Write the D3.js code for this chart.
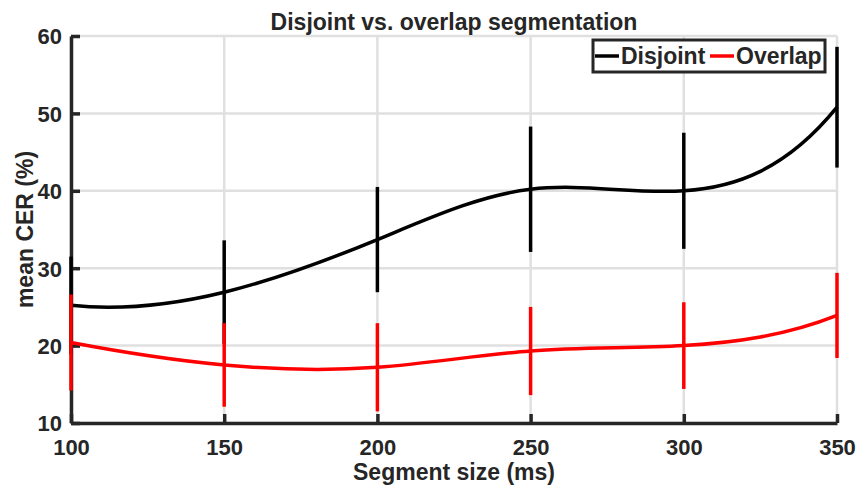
<!DOCTYPE html>
<html lang="en">
<head>
    <meta charset="UTF-8">
    <title>Disjoint vs. overlap segmentation</title>
    <script src="https://d3js.org/d3.v7.js"></script>
    <style>
        body { margin: 0; background: #fff; }
        text { font-family: "Liberation Sans", Arial, sans-serif; font-weight: bold; fill: #262626; }
    </style>
</head>
<body>
<svg width="858" height="486"></svg>
<script>
    // segment sizes (ms)
    const segSizes = [100, 150, 200, 250, 300, 350];
    // mean CER and error (%)
    const disjointMean = [25.2, 26.9, 33.7, 40.2, 40.0, 50.8];
    const disjointErr = [6.3, 6.7, 6.8, 8.1, 7.5, 7.8];
    const overlapMean = [20.4, 17.5, 17.2, 19.3, 20.0, 23.9];
    const overlapErr = [6.2, 5.4, 5.7, 5.7, 5.6, 5.5];
    const xTicks = [100, 150, 200, 250, 300, 350];
    const yTicks = [10, 20, 30, 40, 50, 60];

    const series = [
        {name: "Disjoint", color: "#000", mean: disjointMean, err: disjointErr},
        {name: "Overlap", color: "#ff0000", mean: overlapMean, err: overlapErr}
    ];

    // not-a-knot cubic spline (like matlab's spline), drawn as bezier segments
    function NotAKnot(context) { this._context = context; }
    NotAKnot.prototype = {
        areaStart: function () { this._line = 0; },
        areaEnd: function () { this._line = NaN; },
        lineStart: function () { this._x = []; this._y = []; },
        point: function (px, py) { this._x.push(+px); this._y.push(+py); },
        lineEnd: function () {
            const xs = this._x, ys = this._y, n = xs.length, ctx = this._context;
            if (!n) return;
            ctx.moveTo(xs[0], ys[0]);
            if (n < 4) {
                for (let i = 1; i < n; i++) ctx.lineTo(xs[i], ys[i]);
                return;
            }
            const h = d3.range(n - 1).map(i => xs[i + 1] - xs[i]);
            const A = d3.range(n).map(() => new Array(n).fill(0));
            const b = new Array(n).fill(0);
            // end conditions: third derivative continuous at second and second-last knots
            A[0][0] = -h[1]; A[0][1] = h[0] + h[1]; A[0][2] = -h[0];
            A[n - 1][n - 3] = -h[n - 2]; A[n - 1][n - 2] = h[n - 3] + h[n - 2]; A[n - 1][n - 1] = -h[n - 3];
            for (let i = 1; i < n - 1; i++) {
                A[i][i - 1] = h[i - 1];
                A[i][i] = 2 * (h[i - 1] + h[i]);
                A[i][i + 1] = h[i];
                b[i] = 6 * ((ys[i + 1] - ys[i]) / h[i] - (ys[i] - ys[i - 1]) / h[i - 1]);
            }
            // gaussian elimination with partial pivoting
            for (let c = 0; c < n; c++) {
                let p = c;
                for (let r = c + 1; r < n; r++) if (Math.abs(A[r][c]) > Math.abs(A[p][c])) p = r;
                [A[c], A[p]] = [A[p], A[c]];
                [b[c], b[p]] = [b[p], b[c]];
                for (let r = c + 1; r < n; r++) {
                    const f = A[r][c] / A[c][c];
                    for (let k = c; k < n; k++) A[r][k] -= f * A[c][k];
                    b[r] -= f * b[c];
                }
            }
            const M = new Array(n).fill(0);
            for (let r = n - 1; r >= 0; r--) {
                let s = b[r];
                for (let k = r + 1; k < n; k++) s -= A[r][k] * M[k];
                M[r] = s / A[r][r];
            }
            for (let i = 0; i < n - 1; i++) {
                const hi = h[i];
                const d = (ys[i + 1] - ys[i]) / hi;
                const m0 = d - hi * (2 * M[i] + M[i + 1]) / 6;
                const m1 = d + hi * (M[i] + 2 * M[i + 1]) / 6;
                ctx.bezierCurveTo(xs[i] + hi / 3, ys[i] + m0 * hi / 3,
                    xs[i + 1] - hi / 3, ys[i + 1] - m1 * hi / 3,
                    xs[i + 1], ys[i + 1]);
            }
        }
    };
    const curveNotAKnot = context => new NotAKnot(context);

    const plotLeft = 71, plotRight = 837, plotTop = 36, plotBottom = 423;
    const svg = d3.select("svg");

    const x = d3.scaleLinear().domain([100, 350]).range([plotLeft, plotRight]);
    const y = d3.scaleLinear().domain([10, 60]).range([plotBottom, plotTop]);

    // grid
    svg.append("g").selectAll("line").data(xTicks).join("line")
        .attr("x1", d => x(d)).attr("x2", d => x(d))
        .attr("y1", plotTop).attr("y2", plotBottom)
        .attr("stroke", "#e0e0e0").attr("stroke-width", 2.5);
    svg.append("g").selectAll("line").data(yTicks).join("line")
        .attr("x1", plotLeft).attr("x2", plotRight)
        .attr("y1", d => y(d)).attr("y2", d => y(d))
        .attr("stroke", "#e0e0e0").attr("stroke-width", 2.5);

    // axes, ticks pointing inward
    const xAxis = svg.append("g")
        .attr("transform", "translate(0," + plotBottom + ")")
        .call(d3.axisBottom(x).tickValues(xTicks).tickSizeInner(-9).tickSizeOuter(0).tickPadding(16));
    const yAxis = svg.append("g")
        .attr("transform", "translate(" + plotLeft + ",0)")
        .call(d3.axisLeft(y).tickValues(yTicks).tickSizeInner(-9).tickSizeOuter(0).tickPadding(9));
    [xAxis, yAxis].forEach(ax => {
        ax.select(".domain").attr("stroke", "#262626").attr("stroke-width", 3.5);
        ax.selectAll(".tick line").attr("stroke", "#262626").attr("stroke-width", 3.5);
        ax.selectAll(".tick text").attr("fill", "#262626")
            .style("font-size", "22px").style("font-family", "Liberation Sans, Arial, sans-serif")
            .style("font-weight", "bold");
    });
    yAxis.selectAll(".tick text").attr("dy", "0.36em");

    // lines and error bars
    const line = d3.line().curve(curveNotAKnot)
        .x((d, i) => x(segSizes[i]))
        .y(d => y(d));

    series.forEach(s => {
        const g = svg.append("g");
        g.append("path")
            .attr("d", line(s.mean))
            .attr("fill", "none")
            .attr("stroke", s.color)
            .attr("stroke-width", 3.5);
        g.selectAll("line").data(s.mean).join("line")
            .attr("x1", (d, i) => x(segSizes[i]))
            .attr("x2", (d, i) => x(segSizes[i]))
            .attr("y1", (d, i) => y(d - s.err[i]))
            .attr("y2", (d, i) => y(d + s.err[i]))
            .attr("stroke", s.color)
            .attr("stroke-width", 3.5);
    });

    // title and labels
    svg.append("text").attr("x", 454).attr("y", 30)
        .attr("text-anchor", "middle").style("font-size", "23px")
        .attr("fill", "#000")
        .text("Disjoint vs. overlap segmentation");
    svg.append("text").attr("x", 454).attr("y", 480)
        .attr("text-anchor", "middle").style("font-size", "23px")
        .text("Segment size (ms)");
    svg.append("text")
        .attr("transform", "translate(33," + ((plotTop + plotBottom) / 2) + ") rotate(-90)")
        .attr("text-anchor", "middle").style("font-size", "23px")
        .text("mean CER (%)");

    // legend
    const legend = svg.append("g");
    legend.append("rect")
        .attr("x", 593).attr("y", 40).attr("width", 232).attr("height", 32)
        .attr("fill", "#fff").attr("stroke", "#262626").attr("stroke-width", 3);
    const items = [{s: series[0], x0: 595}, {s: series[1], x0: 710}];
    items.forEach(it => {
        legend.append("line")
            .attr("x1", it.x0).attr("x2", it.x0 + 24)
            .attr("y1", 56).attr("y2", 56)
            .attr("stroke", it.s.color).attr("stroke-width", 3.5);
        legend.append("text")
            .attr("x", it.x0 + 26).attr("y", 64)
            .style("font-size", "23px").attr("fill", "#000")
            .text(it.s.name);
    });
</script>
</body>
</html>
